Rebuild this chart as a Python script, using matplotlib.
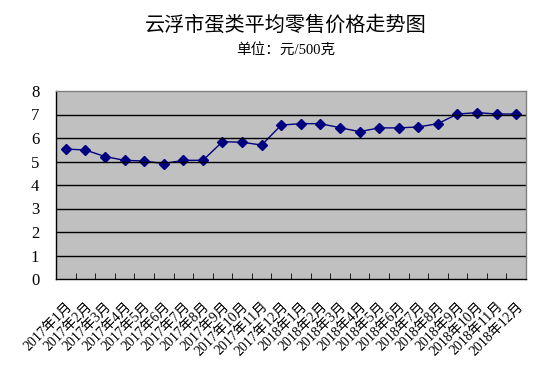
import matplotlib
matplotlib.use("Agg")
import matplotlib.pyplot as plt
import numpy as np

months = ["2017年%d月" % m for m in range(1, 13)] + ["2018年%d月" % m for m in range(1, 13)]
prices = [5.53, 5.49, 5.21, 5.05, 5.02, 4.91, 5.05, 5.05, 5.84, 5.82, 5.70, 6.55,
          6.61, 6.61, 6.44, 6.27, 6.43, 6.43, 6.47, 6.61, 7.02, 7.08, 7.02, 7.02]
yticks = [0, 1, 2, 3, 4, 5, 6, 7, 8]

fonts = ['Liberation Serif', 'Noto Sans CJK SC', 'DejaVu Sans']
plt.rcParams['font.family'] = fonts

fig = plt.figure(figsize=(5.5, 3.86), dpi=100)
ax = fig.add_axes([56/550, 1 - 279/386, 470/550, 188/386])
ax.set_facecolor('#c0c0c0')

X = np.arange(len(months))
ax.plot(X, prices, color='#000080', lw=1.0, marker='D', ms=5, mfc='#000080', mec='#000080')

ax.set_ylim(0, 8)
ax.set_xlim(-0.5, len(months) - 0.5)
ax.set_yticks(yticks)
ax.set_yticklabels([str(v) for v in yticks], fontsize=12)
ax.tick_params(axis='y', length=0, pad=12)
for v in yticks[1:-1]:
    ax.axhline(v, color='black', lw=1.0)

# category ticks between months, pointing inward
ax.set_xticks(np.arange(-0.5, len(months)), minor=True)
ax.tick_params(axis='x', which='minor', direction='in', length=4, color='black')
ax.set_xticks(X)
ax.set_xticklabels(months, rotation=45, ha='right', va='top', rotation_mode='anchor', fontsize=10)
ax.tick_params(axis='x', which='major', length=0, pad=15)

for s in ax.spines.values():
    s.set_color('#808080')
    s.set_linewidth(1.0)
ax.spines['bottom'].set_color('black')
ax.spines['left'].set_color('black')

fig.text(0.52, 1 - 25/386, '云浮市蛋类平均零售价格走势图', ha='center', va='center', fontsize=14.5,
         family=['Noto Sans CJK SC', 'DejaVu Sans'], weight='light')
fig.text(0.52, 1 - 50/386, '单位：元/500克', ha='center', va='center', fontsize=10.5)

fig.savefig('out.png', dpi=100)
